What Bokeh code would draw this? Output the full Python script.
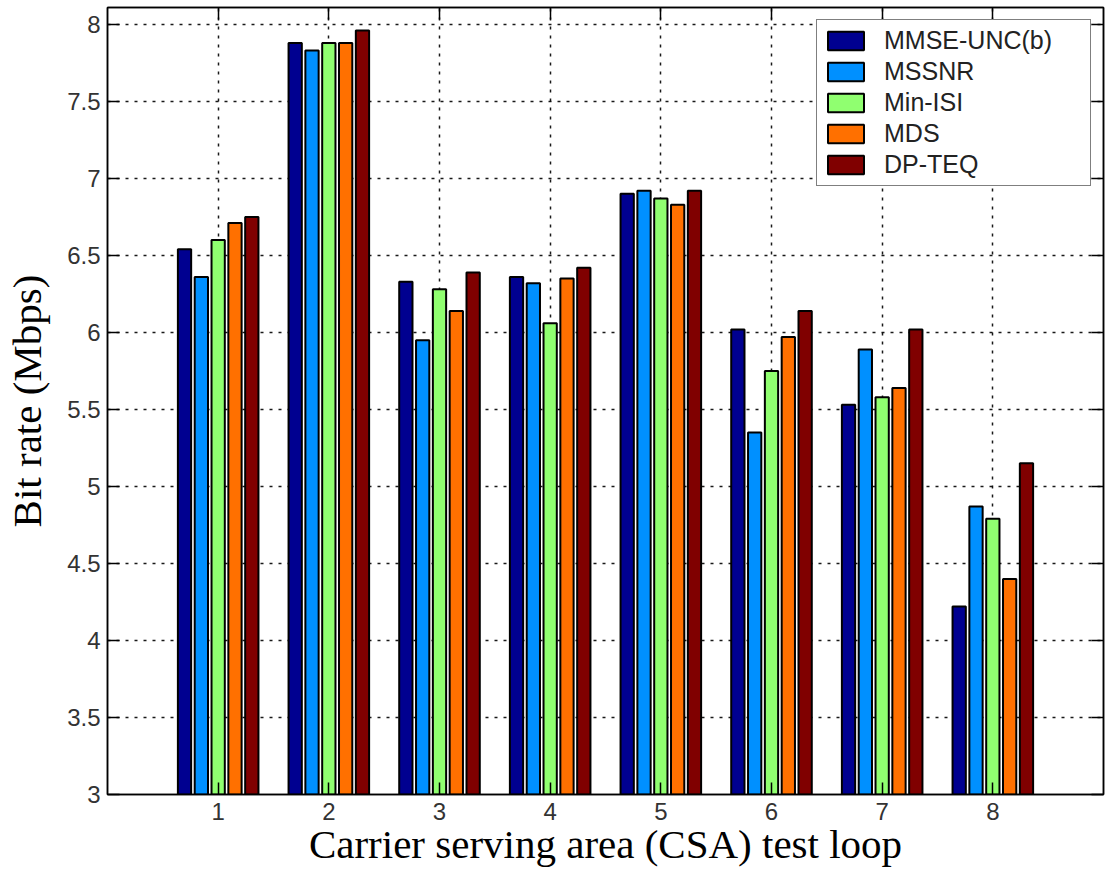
from bokeh.plotting import figure
from bokeh.models import (LinearAxis, FixedTicker, Legend, LegendItem, Range1d,
                          ColumnDataSource)
from bokeh.embed import file_html
from bokeh.resources import INLINE

# Test loops on the x axis
loops = [1, 2, 3, 4, 5, 6, 7, 8]
loop_labels = ["1", "2", "3", "4", "5", "6", "7", "8"]

# Equalizer designs and their bar colours
series_names = ["MMSE-UNC(b)", "MSSNR", "Min-ISI", "MDS", "DP-TEQ"]
series_colors = ["#000090", "#0090ff", "#90ff70", "#ff7000", "#800000"]

# Achieved bit rate (Mbps) per loop for each design
mmse_unc = [6.54, 7.88, 6.33, 6.36, 6.90, 6.02, 5.53, 4.22]
mssnr = [6.36, 7.83, 5.95, 6.32, 6.92, 5.35, 5.89, 4.87]
min_isi = [6.60, 7.88, 6.28, 6.06, 6.87, 5.75, 5.58, 4.79]
mds = [6.71, 7.88, 6.14, 6.35, 6.83, 5.97, 5.64, 4.40]
dp_teq = [6.75, 7.96, 6.39, 6.42, 6.92, 6.14, 6.02, 5.15]

y_ticks = [3, 3.5, 4, 4.5, 5, 5.5, 6, 6.5, 7, 7.5, 8]
y_tick_labels = ["3", "3.5", "4", "4.5", "5", "5.5", "6", "6.5", "7", "7.5", "8"]

series_values = [mmse_unc, mssnr, min_isi, mds, dp_teq]

p = figure(width=1116, height=875, output_backend="svg", toolbar_location=None,
           x_range=Range1d(0, 9), y_range=Range1d(3, 8.11),
           min_border_left=107, min_border_right=13,
           min_border_top=7, min_border_bottom=81)
p.background_fill_color = "white"
p.border_fill_color = "white"
p.outline_line_color = "black"
p.outline_line_width = 1.5

# Grouped bars
pitch = 0.152
bar_w = 0.12
renderers = []
for i, (name, vals, col) in enumerate(zip(series_names, series_values, series_colors)):
    off = (i - 2) * pitch
    src = ColumnDataSource(dict(x=[v + off for v in loops], top=vals))
    r = p.vbar(x="x", top="top", bottom=0, width=bar_w, source=src,
               fill_color=col, line_color="black", line_width=2)
    renderers.append(r)

x_ticker = FixedTicker(ticks=loops)
y_ticker = FixedTicker(ticks=y_ticks)
x_over = {float(t): s for t, s in zip(loops, loop_labels)}
y_over = {float(t): s for t, s in zip(y_ticks, y_tick_labels)}


def style_axis(ax, ticker, overrides):
    ax.ticker = ticker
    ax.major_label_overrides = overrides
    ax.axis_line_color = "black"
    ax.axis_line_width = 1.5
    ax.major_tick_in = 12
    ax.major_tick_out = 0
    ax.major_tick_line_color = "black"
    ax.major_tick_line_width = 1.5
    ax.minor_tick_line_color = None
    ax.major_label_text_font = "Liberation Sans"
    ax.major_label_text_font_size = "24px"
    ax.major_label_text_color = "#333333"
    ax.axis_label_text_font = "Liberation Serif"
    ax.axis_label_text_font_size = "41px"
    ax.axis_label_text_font_style = "normal"
    ax.axis_label_text_color = "black"


style_axis(p.xaxis[0], x_ticker, x_over)
style_axis(p.yaxis[0], y_ticker, y_over)
p.xaxis[0].axis_label = "Carrier serving area (CSA) test loop"
p.yaxis[0].axis_label = "Bit rate (Mbps)"
p.xaxis[0].major_label_standoff = 8
p.yaxis[0].major_label_standoff = 7
p.xaxis[0].axis_label_standoff = -2
p.yaxis[0].axis_label_standoff = 14

# Tick marks on the top and right edges of the box (no labels there)
top_ax = LinearAxis()
right_ax = LinearAxis()
for ax, tk in ((top_ax, x_ticker), (right_ax, y_ticker)):
    style_axis(ax, tk, {})
    ax.major_label_text_color = None
    ax.major_label_text_font_size = "1px"
    ax.major_label_standoff = 0
p.add_layout(top_ax, "above")
p.add_layout(right_ax, "right")

# Dotted grid
for g, tk in ((p.xgrid[0], x_ticker), (p.ygrid[0], y_ticker)):
    g.ticker = tk
    g.grid_line_color = "black"
    g.grid_line_width = 1.5
    g.grid_line_dash = "3 6"
    g.grid_line_alpha = 0.9

legend = Legend(items=[LegendItem(label=n, renderers=[r])
                       for n, r in zip(series_names, renderers)],
                location="top_right")
legend.border_line_color = "black"
legend.border_line_width = 1.5
legend.background_fill_color = "white"
legend.background_fill_alpha = 1.0
legend.label_text_font = "Liberation Sans"
legend.label_text_font_size = "25px"
legend.label_text_color = "#222222"
legend.glyph_width = 45
legend.glyph_height = 23
legend.label_standoff = 16
legend.label_width = 200
legend.padding = 6
legend.spacing = 2
legend.margin = 12
p.add_layout(legend)

open("out.html", "w").write(file_html(p, INLINE))
